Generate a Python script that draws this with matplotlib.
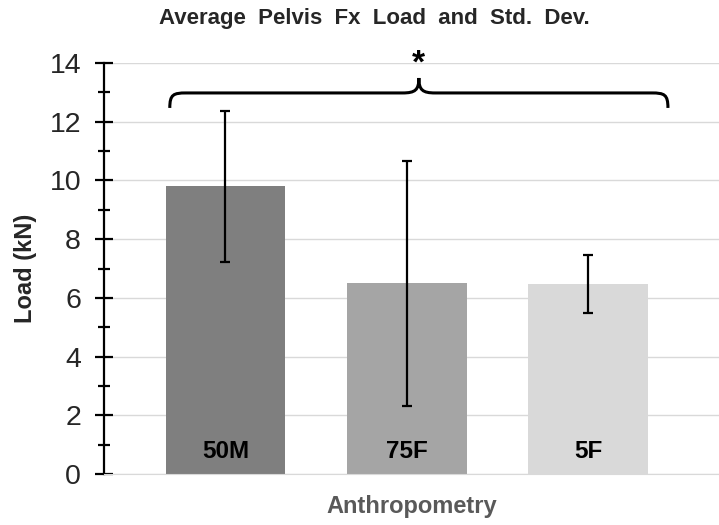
import matplotlib.pyplot as plt
from matplotlib.path import Path
from matplotlib.patches import PathPatch
from matplotlib.ticker import MultipleLocator

plt.rcParams['font.family'] = ['Liberation Sans', 'DejaVu Sans']

# Datos
grupos = ['50M', '75F', '5F']
carga_media = [9.8, 6.5, 6.48]
desv_est = [2.57, 4.17, 0.99]
colores = ['#7f7f7f', '#a5a5a5', '#d9d9d9']

fig = plt.figure(figsize=(7.19, 5.25), dpi=100)
ax = fig.add_axes([0.1446, 0.097, 0.855, 0.783])

x = range(len(grupos))
ax.bar(x, carga_media, width=0.66, color=colores, zorder=2)
ax.errorbar(x, carga_media, yerr=desv_est, fmt='none', ecolor='black',
            elinewidth=1.6, capsize=3.5, capthick=1.6, zorder=3)

# Etiquetas dentro de las barras
for i, g in enumerate(grupos):
    ax.text(i, 0.78, g, ha='center', va='center', fontsize=17.5,
            fontweight='bold', color='black', zorder=4)

ax.set_xlim(-0.67, 2.72)
ax.set_ylim(0, 14)
ax.yaxis.set_major_locator(MultipleLocator(2))
ax.yaxis.set_minor_locator(MultipleLocator(1))
ax.tick_params(axis='y', which='major', direction='inout', length=13, width=1.6,
               labelsize=20.5, labelcolor='#262626', pad=10)
ax.tick_params(axis='y', which='minor', direction='inout', length=8, width=1.6)
ax.tick_params(axis='x', length=0, labelbottom=False)
ax.grid(axis='y', color='#d9d9d9', linewidth=1, zorder=0)

for s in ['top', 'right']:
    ax.spines[s].set_visible(False)
ax.spines['bottom'].set_color('#d9d9d9')
ax.spines['left'].set_linewidth(1.6)

ax.set_ylabel('Load (kN)', fontsize=17, fontweight='bold', color='#262626', labelpad=9)
ax.set_xlabel('Anthropometry', fontsize=17, fontweight='bold', color='#595959', labelpad=15)
fig.text(0.52, 0.965, 'Average  Pelvis  Fx  Load  and  Std.  Dev.', ha='center', va='center',
         fontsize=16, fontweight='bold', color='#262626')

# Llave de significancia
x0, x1 = -0.307, 2.44
xm = (x0 + x1) / 2
y_ext, y_h, y_pico = 12.47, 12.98, 13.49
dx = 0.09
verts = [
    (x0, y_ext), (x0, y_h - 0.05), (x0 + 0.02, y_h), (x0 + dx, y_h),
    (xm - dx, y_h),
    (xm - 0.02, y_h), (xm, y_h + 0.1), (xm, y_pico),
    (xm, y_h + 0.1), (xm + 0.02, y_h), (xm + dx, y_h),
    (x1 - dx, y_h),
    (x1 - 0.02, y_h), (x1, y_h - 0.05), (x1, y_ext),
]
codes = [Path.MOVETO, Path.CURVE4, Path.CURVE4, Path.CURVE4,
         Path.LINETO,
         Path.CURVE4, Path.CURVE4, Path.CURVE4,
         Path.CURVE4, Path.CURVE4, Path.CURVE4,
         Path.LINETO,
         Path.CURVE4, Path.CURVE4, Path.CURVE4]
ax.add_patch(PathPatch(Path(verts, codes), facecolor='none', edgecolor='black',
                       linewidth=2.2, clip_on=False, zorder=5))
ax.text(xm, 13.45, '*', ha='center', va='bottom', fontsize=24, fontweight='bold',
        clip_on=False)

fig.savefig('out.png', dpi=100)
